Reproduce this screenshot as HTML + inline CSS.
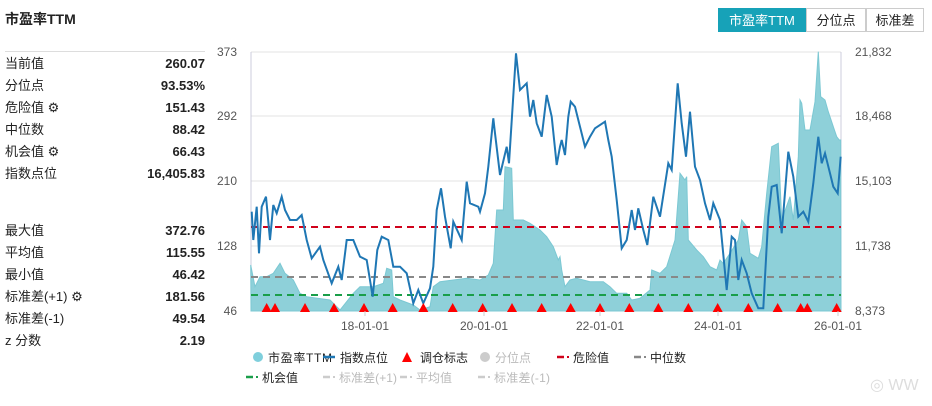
<!DOCTYPE html><html><head><meta charset="utf-8"><style>
body{margin:0;width:932px;height:406px;background:#fff;font-family:"Liberation Sans","Noto Sans CJK SC",sans-serif;position:relative;overflow:hidden;color:#222}
.a{position:absolute;white-space:nowrap}
.t{font-size:13px;left:5px;line-height:16px;height:16px}
.v{font-size:13px;font-weight:bold;right:727px;text-align:right;line-height:16px;height:16px}
.btn{position:absolute;top:8px;height:24px;line-height:24px;font-size:13px;text-align:center;border:1px solid #ccc;box-sizing:border-box}
</style></head><body>
<div class="a" style="left:5px;top:9px;font-size:14px;font-weight:bold">市盈率TTM</div>
<div class="btn" style="left:718px;width:88px;background:#17a2b8;color:#fff;border-color:#17a2b8">市盈率TTM</div>
<div class="btn" style="left:806px;width:60px">分位点</div>
<div class="btn" style="left:866px;width:58px">标准差</div>
<div class="a" style="left:5px;top:51px;width:200px;border-top:1px solid #ddd"></div>
<div id="tb"></div>
<svg class="a" style="left:0;top:0" width="932" height="406" id="s"></svg>
<script>
var tb=document.getElementById('tb'),h='';
var rows=[["当前值","260.07",64],["分位点","93.53%",86],["危险值 ⚙","151.43",108],["中位数","88.42",130],["机会值 ⚙","66.43",152],["指数点位","16,405.83",174],
["最大值","372.76",231],["平均值","115.55",253],["最小值","46.42",275],["标准差(+1) ⚙","181.56",297],["标准差(-1)","49.54",319],["z 分数","2.19",341]];
rows.forEach(function(r){h+='<div class="a t" style="top:'+(r[2]-8)+'px">'+r[0]+'</div><div class="a v" style="top:'+(r[2]-8)+'px">'+r[1]+'</div>';});
tb.innerHTML=h;
var s='';
[52,116,181,246].forEach(function(y){s+='<line x1="251" x2="841" y1="'+y+'" y2="'+y+'" stroke="#e3e3e3"/>';});
s+='<line x1="251" x2="251" y1="52" y2="311" stroke="#ccd"/><line x1="841" x2="841" y1="52" y2="311" stroke="#ccd"/>';
function c3(a){return a.map(function(p){return [240+p[0]/3,40+p[1]/3]})}
function c4(a){return a.map(function(p){return [550+p[0]/3,40+p[1]/3]})}
var pe=c3([[32,675],[45,740],[60,710],[80,710],[100,700],[120,670],[135,700],[160,720],[180,760],[200,770],[270,780],[300,810],[340,760],[360,740],[400,740],[430,730],[440,685],[455,690],[460,770],[480,780],[520,795],[540,810],[570,800],[580,740],[600,725],[640,720],[680,715],[720,720],[745,705],[760,670],[770,510],[790,510],[795,380],[815,385],[820,540],[850,540],[870,550],[900,570],[920,590],[940,620],[955,660]]).concat(c4([[30,650],[35,690],[45,740],[60,720],[80,715],[120,725],[160,725],[180,740],[200,760],[230,760],[245,780],[270,775],[300,750],[305,690],[330,700],[350,680],[375,600],[390,400],[405,420],[410,410],[415,600],[440,630],[460,650],[480,680],[500,690],[510,660],[520,670],[540,640],[565,600],[575,540],[590,560],[600,640],[625,655],[635,620],[650,460],[665,320],[685,310],[695,540],[720,470],[730,540],[745,350],[750,180],[755,190],[765,270],[780,270],[795,185],[805,35],[812,170],[825,180],[835,215],[850,260],[860,290],[868,300],[872,300]]));
var d='M251,311 ';pe.forEach(function(p){d+='L'+p[0].toFixed(1)+','+p[1].toFixed(1)+' '});d+='L841,311Z';
s+='<path d="'+d+'" fill="#8ed0d9" stroke="#7cc8d3" stroke-width="1"/>';
[[227,'#d0021b'],[277,'#888'],[295,'#1a9e4a']].forEach(function(l){s+='<line x1="251" x2="841" y1="'+l[0]+'" y2="'+l[0]+'" stroke="'+l[1]+'" stroke-width="2" stroke-dasharray="7,5"/>'});
var ix=c3([[35,515],[40,600],[50,500],[57,640],[65,500],[78,470],[90,600],[100,495],[110,520],[125,470],[135,510],[150,540],[170,540],[185,525],[200,600],[215,655],[240,620],[250,660],[275,730],[295,680],[305,720],[320,600],[340,600],[360,650],[380,660],[398,770],[412,630],[425,590],[445,600],[460,680],[480,680],[500,700],[520,790],[535,750],[550,790],[570,745],[580,680],[590,510],[603,445],[615,530],[632,625],[640,545],[665,600],[680,425],[690,490],[715,500],[720,515],[735,460],[745,380],[760,235],[765,280],[780,405],[800,320],[807,370],[828,40],[840,150],[860,130],[870,230],[880,180],[890,250],[905,290],[920,165],[935,230],[950,375],[960,320]]).concat(c4([[35,300],[45,345],[55,230],[62,185],[75,200],[90,260],[105,320],[120,290],[135,265],[165,245],[175,300],[185,350],[200,480],[215,625],[230,600],[245,510],[255,570],[265,505],[280,570],[292,615],[310,470],[330,530],[355,370],[365,390],[383,130],[395,250],[408,350],[420,215],[435,380],[450,420],[465,490],[480,540],[490,490],[510,540],[530,750],[545,590],[555,600],[565,720],[575,660],[590,700],[605,760],[625,805],[640,805],[655,530],[665,440],[680,435],[695,580],[715,335],[730,410],[745,530],[760,515],[775,545],[790,430],[805,290],[815,370],[825,340],[840,400],[850,440],[863,460],[872,350]]));
s+='<polyline fill="none" stroke="#1f77b4" stroke-width="2" points="'+ix.map(function(p){return p[0].toFixed(1)+','+p[1].toFixed(1)}).join(' ')+'"/>';
[80,105,195,282,372,458,550,638,728,816,905].map(function(x){return 240+x/3}).concat([62,150,238,325,415,503,595,683,752,772,860].map(function(x){return 550+x/3})).forEach(function(x){s+='<polygon points="'+(x-5)+',312 '+(x+5)+',312 '+x+',303" fill="#f00"/>'});
var lt='font-size="12" fill="#555" font-family="Liberation Sans,sans-serif"';
[["373",52],["292",116],["210",181],["128",246],["46",311]].forEach(function(a){s+='<text x="237" y="'+(a[1]+4)+'" text-anchor="end" '+lt+'>'+a[0]+'</text>'});
[["21,832",52],["18,468",116],["15,103",181],["11,738",246],["8,373",311]].forEach(function(a){s+='<text x="855" y="'+(a[1]+4)+'" '+lt+'>'+a[0]+'</text>'});
[["18-01-01",365],["20-01-01",484],["22-01-01",600],["24-01-01",718],["26-01-01",838]].forEach(function(a){s+='<text x="'+a[1]+'" y="330" text-anchor="middle" '+lt+'>'+a[0]+'</text>';s+='<line x1="'+a[1]+'" x2="'+a[1]+'" y1="311" y2="316" stroke="#ccc"/>'});
var F='font-family="Liberation Sans,Noto Sans CJK SC,sans-serif" font-size="12"';
s+='<circle cx="258" cy="357" r="5" fill="#7fcfdc"/><text x="268" y="362" '+F+' fill="#222" textLength="64">市盈率TTM</text>';
s+='<line x1="323" x2="335" y1="357" y2="357" stroke="#1f77b4" stroke-width="2.5"/><text x="340" y="362" '+F+' fill="#222">指数点位</text>';
s+='<polygon points="402,362 412,362 407,352" fill="#f00"/><text x="420" y="362" '+F+' fill="#222">调仓标志</text>';
s+='<circle cx="485" cy="357" r="5" fill="#ccc"/><text x="495" y="362" '+F+' fill="#bbb">分位点</text>';
function dl(x,y,c,t,tc,tl){return '<line x1="'+x+'" x2="'+(x+7)+'" y1="'+y+'" y2="'+y+'" stroke="'+c+'" stroke-width="2.5"/><line x1="'+(x+10)+'" x2="'+(x+12)+'" y1="'+y+'" y2="'+y+'" stroke="'+c+'" stroke-width="2"/><text x="'+(x+16)+'" y="'+(y+5)+'" '+F+' fill="'+tc+'"'+(tl?' textLength="'+tl+'"':'')+'>'+t+'</text>'}
s+=dl(557,357,'#d0021b','危险值','#222')+dl(634,357,'#888','中位数','#222')+dl(246,377,'#1a9e4a','机会值','#222')+dl(323,377,'#ccc','标准差(+1)','#bbb',58)+dl(400,377,'#ccc','平均值','#bbb')+dl(478,377,'#ccc','标准差(-1)','#bbb',56);
s+='<text x="870" y="390" font-size="16" fill="#ddd" font-family="Liberation Sans,sans-serif">◎ WW</text>';
document.getElementById('s').innerHTML=s;
</script>
</body></html>
